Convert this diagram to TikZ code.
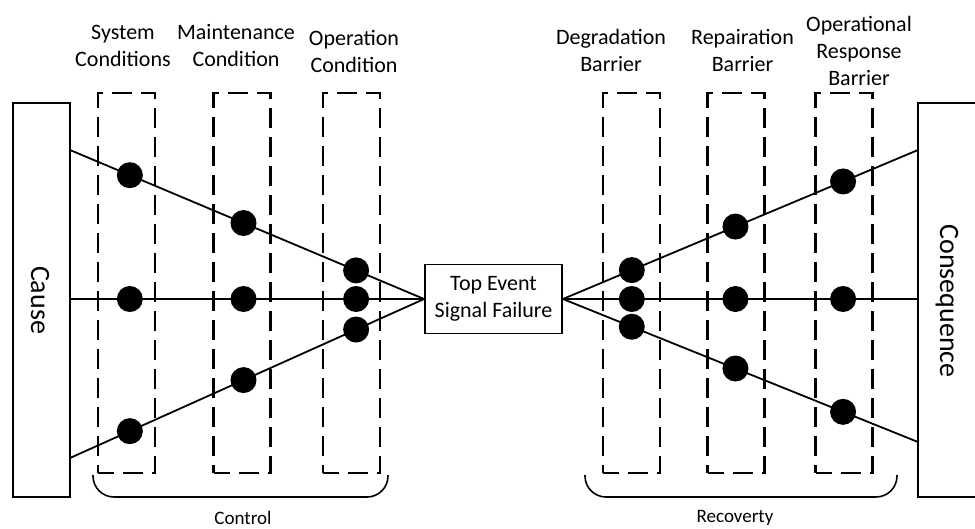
\documentclass[tikz,border=0pt]{standalone}
\usepackage{fontspec}
\setmainfont{Carlito}
\begin{document}
\begin{tikzpicture}[x=1pt,y=-1pt,
  conn/.style={line width=1.8pt},
  endbox/.style={draw,line width=1.8pt,minimum width=57pt,minimum height=394pt,inner sep=0pt},
  barbox/.style={draw,line width=2.3pt,dash pattern=on 20pt off 9pt,dash phase=4pt,minimum width=57pt,minimum height=380pt,inner sep=0pt},
  dot/.style={circle,fill=black,minimum size=26pt,inner sep=0pt},
  title/.style={align=center,inner sep=0pt,font=\fontsize{22}{27}\selectfont},
  bigtxt/.style={font=\fontsize{28}{32}\selectfont,rotate=-90},
  brace/.style={line width=1.6pt,rounded corners=21pt},
  small/.style={font=\fontsize{19}{22}\selectfont}]
\useasboundingbox (0,0) rectangle (975,528);
\fill[white] (0,0) rectangle (975,528);

% end boxes
\node[endbox] (cause) at (41.5,300) {};
\node[bigtxt] at (40,300) {Cause};
\node[endbox,minimum width=70pt] (cons) at (953,300) {};
\node[bigtxt] at (947,301) {Consequence};

% barrier columns
\node[barbox] (b1) at (126.5,283) {};
\node[barbox] (b2) at (242,283) {};
\node[barbox] (b3) at (351.5,283) {};
\node[barbox] (b4) at (631.5,283) {};
\node[barbox] (b5) at (736,283) {};
\node[barbox] (b6) at (844,283) {};

% column titles
\node[title] (t1) at (123,46) {System\\Conditions};
\node[title] (t2) at (236,46) {Maintenance\\Condition};
\node[title] (t3) at (354,51) {Operation\\Condition};
\node[title] (t4) at (611,50) {Degradation\\Barrier};
\node[title] (t5) at (742.5,50) {Repairation\\Barrier};
\node[title] (t6) at (859,51) {Operational\\Response\\Barrier};

% top event
\node[draw,line width=1.8pt,minimum width=137pt,minimum height=69pt,inner sep=0pt,
      align=center,font=\fontsize{22}{27}\selectfont] (top) at (493.5,299) {Top Event\\Signal Failure};

% line ends on the end boxes
\coordinate (l1) at (70,150);
\coordinate (l2) at (70,299);
\coordinate (l3) at (70,458);
\coordinate (r1) at (918,150);
\coordinate (r2) at (918,299);
\coordinate (r3) at (918,442);

% cause side
\draw[conn] (l1) -- node[dot,pos=.169] (d11) {} node[dot,pos=.49] (d12) {} node[dot,pos=.808] (d13) {} (top.west);
\draw[conn] (l2) -- node[dot,pos=.169] (d21) {} node[dot,pos=.49] (d22) {} node[dot,pos=.808] (d23) {} (top.west);
\draw[conn] (l3) -- node[dot,pos=.169] (d31) {} node[dot,pos=.49] (d32) {} node[dot,pos=.808] (d33) {} (top.west);

% consequence side
\draw[conn] (top.east) -- node[dot,pos=.194] (e11) {} node[dot,pos=.486] (e12) {} node[dot,pos=.789] (e13) {} (r1);
\draw[conn] (top.east) -- node[dot,pos=.194] (e21) {} node[dot,pos=.486] (e22) {} node[dot,pos=.789] (e23) {} (r2);
\draw[conn] (top.east) -- node[dot,pos=.194] (e31) {} node[dot,pos=.486] (e32) {} node[dot,pos=.789] (e33) {} (r3);

% group brackets
\draw[brace] (93,475) -- (93,497) -- (388,497) -- (388,475);
\draw[brace] (585,475) -- (585,497) -- (897,497) -- (897,475);
\node[small] (ctl) at (243,518) {Control};
\node[small] (rec) at (735,518) {Recoverty};
\end{tikzpicture}
\end{document}
